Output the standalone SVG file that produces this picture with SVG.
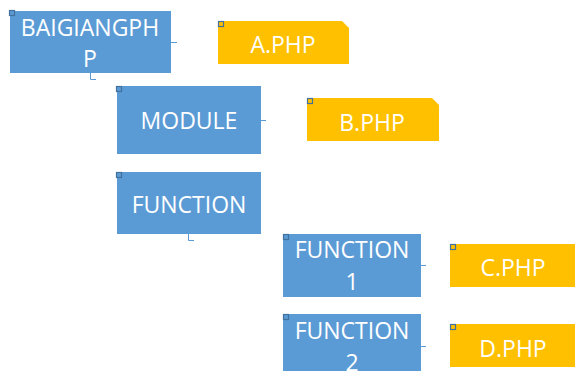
<svg xmlns="http://www.w3.org/2000/svg" width="575" height="371" viewBox="0 0 575 371">
<style>
.b{fill:#5B9BD5}
.y{fill:#FFC000}
.t{font-family:"Open Sans","Noto Sans",sans-serif;font-size:23px;fill:#fff;text-anchor:middle}
.mb{fill:#5B9BD5;stroke:#41719C;stroke-width:1.2}
.my{fill:#FFC000;stroke:#41719C;stroke-width:1.2}
.c{fill:none;stroke:#5B9BD5;stroke-width:1}
</style>
<rect width="575" height="371" fill="#fff"/>
<g id="connectors">
<path class="c" d="M171 42.5H177"/>
<path class="c" d="M90.5 73V79.5H96"/>
<path class="c" d="M261 120.5H266"/>
<path class="c" d="M188.5 234V240.5H194"/>
<path class="c" d="M421 265.5H426"/>
<path class="c" d="M421 346.5H426"/>
</g>
<g id="baigiangphp">
<rect class="b" x="10" y="11" width="161" height="62"/>
<rect class="mb" x="9.5" y="10.5" width="5" height="5"/>
<text class="t" x="90" y="36">BAIGIANGPH</text>
<text class="t" x="90" y="67">P</text>
</g>
<g id="a-php">
<path class="y" d="M218 21H342L349 28V64H218Z"/>
<rect class="my" x="218.5" y="21.5" width="5" height="5"/>
<text class="t" x="283" y="53">A.PHP</text>
</g>
<g id="module">
<rect class="b" x="117" y="86" width="144" height="68"/>
<rect class="mb" x="116.5" y="86.5" width="5" height="5"/>
<text class="t" x="189" y="129">MODULE</text>
</g>
<g id="b-php">
<path class="y" d="M307 98H432L439 105V141H307Z"/>
<rect class="my" x="307.5" y="98.5" width="5" height="5"/>
<text class="t" x="372" y="131">B.PHP</text>
</g>
<g id="function">
<rect class="b" x="117" y="172" width="144" height="62"/>
<rect class="mb" x="116.5" y="172.5" width="5" height="5"/>
<text class="t" x="189" y="213">FUNCTION</text>
</g>
<g id="function1">
<rect class="b" x="283" y="234" width="138" height="63"/>
<rect class="mb" x="283.5" y="234.5" width="5" height="5"/>
<text class="t" x="352" y="258">FUNCTION</text>
<text class="t" x="352" y="290">1</text>
</g>
<g id="c-php">
<rect class="y" x="450" y="244" width="126" height="43"/>
<rect class="my" x="450.5" y="244.5" width="5" height="5"/>
<text class="t" x="513" y="276">C.PHP</text>
</g>
<g id="function2">
<rect class="b" x="283" y="314" width="138" height="58"/>
<rect class="mb" x="283.5" y="314.5" width="5" height="5"/>
<text class="t" x="352" y="339">FUNCTION</text>
<text class="t" x="352" y="371">2</text>
</g>
<g id="d-php">
<rect class="y" x="450" y="324" width="126" height="43"/>
<rect class="my" x="450.5" y="324.5" width="5" height="5"/>
<text class="t" x="513" y="357">D.PHP</text>
</g>
</svg>
